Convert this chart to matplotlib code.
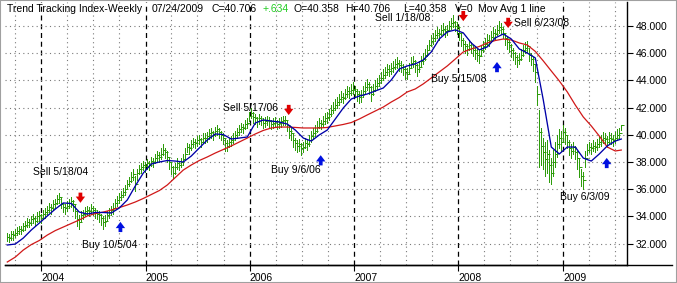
import matplotlib
matplotlib.use('Agg')
import matplotlib.pyplot as plt
import matplotlib.dates as mdates
from matplotlib.lines import Line2D
import pandas as pd

plt.rcParams['font.family'] = ['Liberation Sans', 'DejaVu Sans']

# weekly bars, Sep 2003 .. Jul 2009
closes = [
    32.5, 32.4, 32.7, 32.6, 32.8, 32.9, 33.1, 33.0, 33.3, 33.4,
    33.6, 33.5, 33.8, 33.9, 33.7, 34.0, 34.1, 33.9, 34.2, 34.3,
    34.5, 34.7, 34.6, 34.9, 35.0, 35.3, 35.4, 34.9, 34.7, 34.6,
    34.8, 35.0, 35.1, 34.9, 34.4, 33.8, 33.6, 34.1, 34.2, 34.4,
    34.5, 34.4, 34.6, 34.5, 34.3, 34.2, 34.1, 33.9, 33.6, 33.7,
    34.1, 34.3, 34.5, 34.6, 35.0, 35.2, 35.4, 35.6, 35.8, 36.0,
    36.4, 36.6, 36.9, 37.1, 36.4, 37.2, 37.5, 37.6, 37.8, 37.7,
    37.9, 37.8, 38.1, 38.0, 38.3, 38.5, 38.4, 38.6, 38.9, 38.7,
    38.4, 38.0, 37.6, 37.2, 37.6, 37.9, 37.8, 38.0, 38.2, 38.6,
    39.1, 39.0, 39.3, 39.5, 39.4, 39.6, 39.7, 39.5, 39.8, 39.8,
    39.9, 40.1, 40.2, 40.0, 40.3, 40.4, 40.2, 40.0, 39.8, 39.4,
    39.2, 39.5, 39.6, 39.8, 40.0, 40.2, 40.4, 40.6, 40.5, 40.8,
    40.9, 41.4, 41.6, 41.3, 41.2, 41.0, 41.2, 41.1, 40.9, 41.0,
    41.1, 41.0, 40.8, 40.9, 41.0, 40.8, 40.9, 41.0, 41.1, 41.1,
    40.7, 40.3, 40.1, 39.6, 39.4, 39.2, 39.3, 39.0, 39.1, 39.4,
    39.3, 39.6, 39.9, 40.1, 40.3, 40.6, 40.9, 40.8, 41.0, 41.2,
    41.3, 41.5, 41.8, 42.0, 42.2, 42.4, 42.6, 42.8, 42.7, 43.0,
    43.2, 43.1, 43.3, 43.4, 43.2, 43.0, 42.8, 42.9, 43.2, 43.5,
    43.7, 43.5, 43.0, 43.3, 43.6, 43.8, 44.0, 44.2, 44.4, 44.6,
    44.8, 44.7, 44.9, 45.0, 45.2, 45.3, 45.1, 45.0, 44.8, 44.6,
    44.5, 44.9, 45.3, 45.4, 45.1, 44.8, 45.0, 45.4, 45.6, 45.9,
    46.2, 46.6, 46.9, 47.1, 47.3, 47.5, 47.4, 47.7, 47.8, 47.6,
    47.7, 48.0, 48.2, 48.3, 48.0, 47.9, 47.5, 47.0, 46.7, 46.5,
    46.3, 46.6, 46.4, 46.2, 46.0, 45.9, 45.8, 46.2, 46.5, 46.7,
    47.0, 46.9, 47.2, 47.5, 47.4, 47.7, 47.9, 47.8, 47.5, 47.1,
    46.8, 46.6, 46.2, 46.0, 45.7, 45.5, 45.6, 45.9, 46.2, 46.4,
    46.5, 45.9, 45.6, 45.2, 44.6, 43.0, 40.2, 39.2, 38.7, 38.2,
    38.6, 37.8, 37.2, 38.0, 38.6, 39.3, 39.8, 39.5, 40.2, 40.0,
    39.5, 39.0, 38.8, 39.1, 38.7, 38.3, 37.6, 37.0, 36.7, 38.3,
    38.9, 39.1, 39.0, 39.2, 39.1, 39.3, 39.5, 39.6, 39.8, 39.7,
    39.5, 39.8, 39.7, 39.6, 39.8, 40.0, 40.1, 40.706,
]
highs = [
    32.8, 32.7, 32.9, 32.9, 33.1, 33.2, 33.3, 33.3, 33.5, 33.7,
    33.9, 33.8, 34.0, 34.2, 34.0, 34.3, 34.4, 34.2, 34.5, 34.6,
    34.8, 35.0, 34.9, 35.2, 35.3, 35.6, 35.7, 35.4, 35.0, 34.9,
    35.1, 35.3, 35.4, 35.2, 34.9, 34.4, 34.1, 34.4, 34.5, 34.7,
    34.8, 34.7, 34.9, 34.8, 34.6, 34.5, 34.4, 34.2, 34.0, 34.1,
    34.4, 34.6, 34.8, 35.0, 35.3, 35.5, 35.7, 35.9, 36.1, 36.3,
    36.7, 36.9, 37.3, 37.5, 37.0, 37.5, 37.8, 37.9, 38.1, 38.0,
    38.2, 38.1, 38.4, 38.3, 38.6, 38.8, 38.7, 39.0, 39.3, 39.0,
    38.8, 38.4, 38.0, 37.7, 37.9, 38.3, 38.1, 38.3, 38.6, 39.0,
    39.4, 39.3, 39.6, 39.8, 39.7, 39.9, 40.0, 39.8, 40.1, 40.1,
    40.2, 40.4, 40.5, 40.3, 40.6, 40.7, 40.5, 40.3, 40.1, 39.8,
    39.6, 39.8, 39.9, 40.1, 40.3, 40.5, 40.7, 40.9, 40.8, 41.1,
    41.2, 41.7, 42.0, 41.7, 41.5, 41.3, 41.5, 41.4, 41.2, 41.3,
    41.4, 41.3, 41.1, 41.2, 41.3, 41.1, 41.2, 41.3, 41.4, 41.4,
    41.1, 40.7, 40.5, 40.1, 39.8, 39.6, 39.7, 39.4, 39.5, 39.8,
    39.7, 40.0, 40.3, 40.5, 40.7, 41.0, 41.2, 41.1, 41.4, 41.6,
    41.7, 41.9, 42.2, 42.4, 42.6, 42.8, 43.0, 43.2, 43.1, 43.4,
    43.6, 43.5, 43.7, 43.9, 43.6, 43.4, 43.2, 43.3, 43.6, 43.9,
    44.1, 43.9, 43.6, 43.7, 44.0, 44.2, 44.4, 44.6, 44.8, 45.0,
    45.2, 45.1, 45.3, 45.4, 45.6, 45.7, 45.5, 45.4, 45.2, 45.0,
    44.9, 45.3, 45.7, 45.8, 45.5, 45.2, 45.4, 45.8, 46.0, 46.3,
    46.6, 47.0, 47.3, 47.5, 47.7, 47.9, 47.8, 48.1, 48.2, 48.0,
    48.1, 48.4, 48.6, 48.8, 48.4, 48.3, 47.9, 47.5, 47.1, 46.9,
    46.7, 47.0, 46.8, 46.6, 46.4, 46.3, 46.2, 46.6, 46.9, 47.1,
    47.4, 47.3, 47.6, 47.9, 47.8, 48.1, 48.4, 48.2, 47.9, 47.5,
    47.2, 47.0, 46.7, 46.4, 46.1, 45.9, 46.0, 46.3, 46.6, 46.8,
    46.9, 46.4, 46.0, 45.7, 45.2, 43.6, 41.8, 40.5, 39.8, 39.5,
    39.6, 38.9, 38.3, 38.9, 39.5, 40.0, 40.4, 40.3, 40.7, 40.5,
    40.0, 39.6, 39.3, 39.5, 39.2, 38.8, 38.3, 37.5, 37.3, 38.8,
    39.3, 39.5, 39.4, 39.6, 39.5, 39.7, 39.9, 40.0, 40.2, 40.1,
    39.9, 40.2, 40.1, 40.0, 40.2, 40.4, 40.5, 40.706,
]
lows = [
    32.2, 32.1, 32.3, 32.3, 32.5, 32.6, 32.7, 32.7, 32.9, 33.0,
    33.2, 33.2, 33.4, 33.5, 33.3, 33.6, 33.7, 33.5, 33.8, 33.9,
    34.1, 34.3, 34.2, 34.5, 34.6, 34.9, 35.0, 34.6, 34.3, 34.2,
    34.4, 34.6, 34.7, 34.4, 33.9, 33.3, 33.1, 33.7, 33.8, 34.0,
    34.1, 34.0, 34.2, 34.1, 33.9, 33.8, 33.6, 33.4, 33.1, 33.3,
    33.7, 33.9, 34.1, 34.2, 34.6, 34.8, 35.0, 35.2, 35.4, 35.6,
    36.0, 36.2, 36.5, 36.7, 35.9, 36.7, 37.1, 37.2, 37.4, 37.3,
    37.5, 37.4, 37.7, 37.6, 37.9, 38.1, 38.0, 38.2, 38.5, 38.3,
    38.0, 37.5, 37.1, 36.8, 37.1, 37.5, 37.4, 37.6, 37.8, 38.2,
    38.7, 38.6, 38.9, 39.1, 39.0, 39.2, 39.3, 39.1, 39.4, 39.4,
    39.5, 39.7, 39.8, 39.6, 39.9, 40.0, 39.8, 39.6, 39.3, 38.8,
    38.8, 39.1, 39.2, 39.4, 39.6, 39.8, 40.0, 40.2, 40.1, 40.4,
    40.5, 41.0, 41.2, 40.9, 40.8, 40.6, 40.8, 40.7, 40.5, 40.6,
    40.7, 40.6, 40.4, 40.5, 40.6, 40.4, 40.5, 40.6, 40.7, 40.7,
    40.3, 39.8, 39.6, 39.1, 38.9, 38.7, 38.8, 38.5, 38.7, 39.0,
    38.9, 39.2, 39.5, 39.7, 39.9, 40.2, 40.5, 40.4, 40.6, 40.8,
    40.9, 41.1, 41.4, 41.6, 41.8, 42.0, 42.2, 42.4, 42.3, 42.6,
    42.8, 42.7, 42.9, 43.0, 42.8, 42.5, 42.3, 42.4, 42.8, 43.1,
    43.3, 43.0, 42.5, 42.9, 43.2, 43.4, 43.6, 43.8, 44.0, 44.2,
    44.4, 44.3, 44.5, 44.6, 44.8, 44.9, 44.7, 44.6, 44.4, 44.1,
    44.1, 44.5, 44.9, 45.0, 44.6, 44.3, 44.6, 45.0, 45.2, 45.5,
    45.8, 46.2, 46.5, 46.7, 46.9, 47.1, 47.0, 47.3, 47.4, 47.2,
    47.3, 47.6, 47.8, 47.9, 47.6, 47.4, 47.0, 46.5, 46.2, 46.0,
    45.9, 46.2, 46.0, 45.8, 45.6, 45.4, 45.3, 45.8, 46.1, 46.3,
    46.6, 46.5, 46.8, 47.1, 47.0, 47.3, 47.5, 47.4, 47.1, 46.6,
    46.3, 46.1, 45.7, 45.5, 45.2, 45.0, 45.2, 45.5, 45.8, 46.0,
    46.1, 45.4, 45.1, 44.7, 43.9, 42.2, 37.6, 37.8, 37.5, 37.0,
    37.2, 36.5, 36.4, 37.0, 37.6, 38.4, 39.0, 38.8, 39.5, 39.3,
    39.0, 38.5, 38.3, 38.6, 38.2, 37.5, 36.9, 36.2, 36.0, 37.6,
    38.5, 38.7, 38.6, 38.8, 38.7, 38.9, 39.1, 39.2, 39.4, 39.3,
    39.1, 39.4, 39.3, 39.2, 39.4, 39.6, 39.7, 40.358,
]

# moving averages, sampled every 4th week plus the last week
blue_ma = [
    31.90, 31.97, 32.41, 33.00, 33.51, 34.03, 34.54, 34.99, 34.95, 34.32,
    34.18, 34.29, 34.29, 34.25, 34.62, 35.21, 36.24, 37.19, 37.85, 38.00,
    38.11, 38.07, 38.00, 38.44, 39.03, 39.62, 40.06, 40.02, 39.69, 39.76,
    39.84, 40.87, 41.09, 41.01, 40.94, 40.79, 40.35, 39.76, 39.54, 39.99,
    40.35, 41.16, 41.97, 42.63, 42.85, 43.00, 43.22, 43.44, 44.03, 44.84,
    45.06, 45.21, 45.50, 46.09, 47.04, 47.56, 47.71, 47.49, 46.75, 46.24,
    46.46, 47.12, 47.41, 47.04, 46.31, 46.01, 45.65, 42.56, 39.10, 38.59,
    39.10, 39.10, 38.29, 38.07, 38.59, 39.18, 39.54, 39.69,
]
red_ma = [
    30.65, 31.01, 31.53, 31.93, 32.23, 32.63, 32.96, 33.22, 33.48, 33.74,
    34.03, 34.21, 34.32, 34.47, 34.65, 34.84, 35.06, 35.32, 35.61, 35.90,
    36.31, 36.86, 37.41, 37.78, 38.11, 38.37, 38.66, 38.92, 39.18, 39.47,
    39.76, 40.06, 40.32, 40.50, 40.57, 40.57, 40.54, 40.50, 40.50, 40.50,
    40.54, 40.65, 40.76, 40.90, 41.16, 41.46, 41.75, 42.04, 42.41, 42.74,
    43.15, 43.37, 43.74, 44.18, 44.62, 45.06, 45.57, 46.09, 46.31, 46.49,
    46.75, 46.93, 47.04, 46.97, 46.75, 46.60, 46.13, 45.43, 44.69, 43.96,
    43.15, 42.19, 41.31, 40.65, 39.91, 39.10, 38.81, 38.88,
]

# signals: label, kind, date, arrow tip level, text offset (px)
signals = [
    ("Sell 5/18/04", "sell", "2004-05-18", 35.0, (-47, 31)),
    ("Buy 10/5/04", "buy", "2004-10-05", 33.6, (-38, -23)),
    ("Sell 5/17/06", "sell", "2006-05-17", 41.45, (-66, 7)),
    ("Buy 9/6/06", "buy", "2006-09-06", 38.5, (-50, -15)),
    ("Sell 1/18/08", "sell", "2008-01-18", 48.35, (-88, 3)),
    ("Buy 5/15/08", "buy", "2008-05-15", 45.35, (-66, -17)),
    ("Sell 6/23/08", "sell", "2008-06-23", 47.85, (6, 5)),
    ("Buy 6/3/09", "buy", "2009-06-03", 38.3, (-47, -39)),
]

header = [
    ("Trend Tracking Index-Weekly", 7, "black"),
    ("07/24/2009", 152, "black"),
    ("C=40.706", 212, "black"),
    ("+.634", 263, "#22cc22"),
    ("O=40.358", 293, "black"),
    ("H=40.706", 345, "black"),
    ("L=40.358", 403, "black"),
    ("V=0", 455, "black"),
    ("Mov Avg 1 line", 478, "black"),
]

GREEN = "#2e9c0c"
W, H = 677, 283

weeks = pd.date_range(end="2009-07-24", periods=len(closes), freq="7D")
ma_dates = list(weeks[::4]) + [weeks[-1]]

fig = plt.figure(figsize=(W / 100, H / 100), dpi=100)
fig.patch.set_facecolor("white")
ax = fig.add_axes([5 / W, 18 / H, 622 / W, 263 / H])

ax.vlines(weeks, lows, highs, color=GREEN, lw=0.72, antialiased=False)
ax.plot(weeks, closes, ls="none", marker=1, ms=2, mew=0.72, color=GREEN, antialiased=False)
ax.plot(ma_dates, red_ma, color="#d01818", lw=0.9)
ax.plot(ma_dates, blue_ma, color="#0000a8", lw=0.95)

ax.set_xlim(pd.Timestamp("2003-08-28"), pd.Timestamp("2009-08-13"))
ax.set_ylim(30.43, 49.76)

ax.xaxis.set_major_locator(mdates.YearLocator())
ax.xaxis.set_major_formatter(mdates.DateFormatter("%Y"))
ax.xaxis.set_minor_locator(mdates.MonthLocator(bymonth=(4, 7, 10)))
ax.set_yticks(range(32, 49, 2))
ax.yaxis.set_major_formatter(matplotlib.ticker.FormatStrFormatter("%.3f"))
ax.yaxis.tick_right()

ax.grid(which="major", axis="x", color="black", ls=(0, (4, 3)), lw=0.9)
ax.grid(which="minor", axis="x", color="#7a7a7a", ls=(0, (1, 3)), lw=0.8)
ax.grid(which="major", axis="y", color="#7a7a7a", ls=(0, (1, 3)), lw=0.8)
ax.set_axisbelow(True)

ax.tick_params(axis="x", which="major", length=4, pad=2, labelsize=7.5, direction="out")
ax.tick_params(axis="x", which="minor", length=0)
ax.tick_params(axis="y", length=4, pad=2, labelsize=7.5, direction="out")
for lab in ax.get_xticklabels():
    lab.set_ha("left")

for s in ("left", "top"):
    ax.spines[s].set_visible(False)
ax.spines["right"].set_linewidth(1)
ax.spines["bottom"].set_linewidth(1)

for label, kind, d, tip, (dx, dy) in signals:
    d = pd.Timestamp(d)
    if kind == "sell":
        col, tail = "#e00000", tip + 0.75
    else:
        col, tail = "#0010e0", tip - 0.75
    ax.annotate("", xy=(d, tip), xytext=(d, tail),
                arrowprops=dict(arrowstyle="simple,head_width=0.75,head_length=0.5,tail_width=0.3",
                                color=col, lw=0, mutation_scale=9, shrinkA=0, shrinkB=0))
    ax.annotate(label, xy=(d, tip), xytext=(dx, dy), textcoords="offset pixels",
                ha="left", va="center", fontsize=7.5)

for txt, x, col in header:
    fig.text(x / W, 1 - 9 / H, txt, color=col, fontsize=7.5, ha="left", va="center")

# outer frame
fig.add_artist(Line2D([5 / W, 672 / W], [18 / H, 18 / H], color="black", lw=1))
fig.add_artist(Line2D([0, 1, 1, 0, 0], [0.5 / H, 0.5 / H, 1, 1, 0.5 / H], color="#a0a0a0", lw=1.5))

fig.savefig("out.png", dpi=100, facecolor=fig.get_facecolor())
